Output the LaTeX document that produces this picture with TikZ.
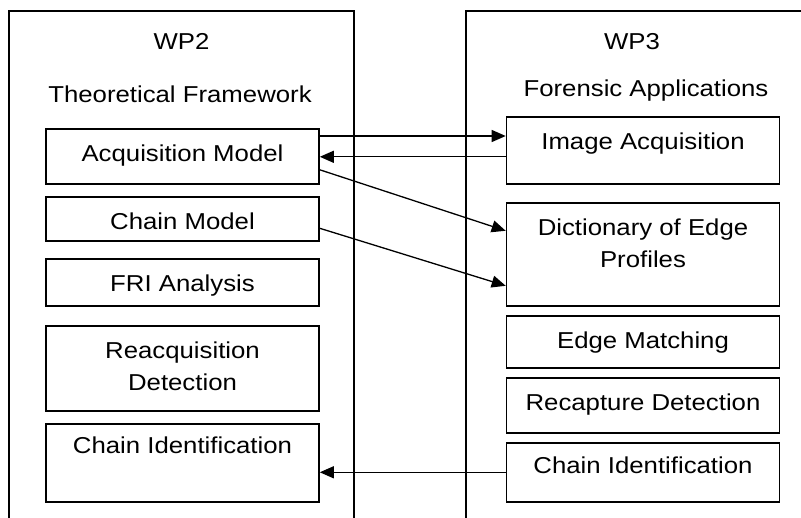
\documentclass[tikz,border=0pt]{standalone}
\usepackage{fontspec}
\setmainfont{Liberation Sans}[FakeStretch=1.12]
\usepackage{tikz}
\usetikzlibrary{arrows.meta}

\begin{document}
\begin{tikzpicture}[x=1pt, y=-1pt, font=\fontsize{23}{32}\selectfont,
		box_style/.style={draw=black, line width=1.6pt, minimum width=273pt, inner xsep=0pt, inner ysep=0pt,
			text height=33pt, anchor=north, align=center},
		title_style/.style={anchor=base, inner sep=0pt},
		frame_style/.style={draw=black, line width=1.3pt},
		arrow_style/.style={draw=black, line width=1.3pt, -{Triangle[length=14pt,width=12pt]}}]

		\useasboundingbox (0,0) rectangle (801,518);

		% work package frames (open at the bottom)
		\draw[frame_style] (9,518) -- (9,11) -- (354,11) -- (354,518);
		\draw[frame_style] (466,518) -- (466,11) -- (801,11);

		\node[title_style] (wp2) at (181.5,50) {WP2};
		\node[title_style] (wp2t) at (180,103) {Theoretical Framework};
		\node[title_style] (wp3) at (632,50) {WP3};
		\node[title_style] (wp3t) at (646,97) {Forensic Applications};

		% WP2 tasks
		\node[box_style, text depth=22pt] (acq) at (182.5,128) {Acquisition Model};
		\node[box_style, text depth=11pt] (cmodel) at (182.5,196) {Chain Model};
		\node[box_style, text depth=14pt] (fri) at (182.5,258) {FRI Analysis};
		\node[box_style, text height=65pt, text depth=20pt] (reacq) at (182.5,325) {Reacquisition\\Detection};
		\node[box_style, text height=30pt, text depth=48pt] (lchain) at (182.5,423) {Chain Identification};

		% WP3 tasks
		\node[box_style, text depth=34pt] (imgacq) at (643,116) {Image Acquisition};
		\node[box_style, text height=65pt, text depth=38pt] (dict) at (643,202) {Dictionary of Edge\\Profiles};
		\node[box_style, text depth=19pt] (edge) at (643,315) {Edge Matching};
		\node[box_style, text depth=22pt] (recap) at (643,377) {Recapture Detection};
		\node[box_style, text height=31pt, text depth=28pt] (rchain) at (643,442) {Chain Identification};

		\draw[arrow_style] ([yshift=-8pt]acq.north east) -- ([yshift=-8pt]acq.north east -| imgacq.west);
		\draw[arrow_style] ([yshift=-6.5pt]imgacq.west) -- ([yshift=-6.5pt]imgacq.west -| acq.east);
		\draw[arrow_style] ([yshift=-13.5pt]acq.east) -- ([yshift=23.5pt]dict.west);
		\draw[arrow_style] ([yshift=-9.5pt]cmodel.east) -- ([yshift=-31.5pt]dict.west);
		\draw[arrow_style] (rchain.west) -- (rchain.west -| lchain.east);
\end{tikzpicture}
\end{document}
